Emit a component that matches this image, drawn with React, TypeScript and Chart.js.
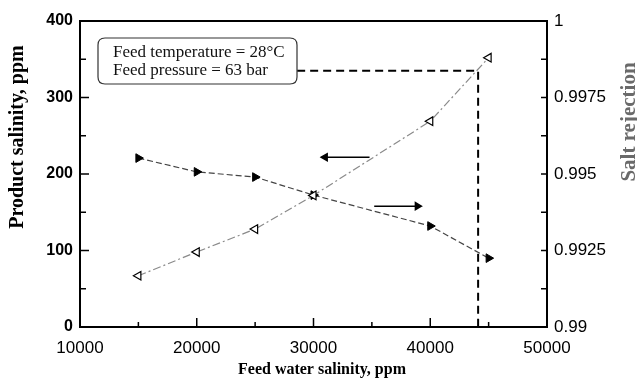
import React, { useEffect, useRef } from "react";
import { Chart, registerables } from "chart.js";

Chart.register(...registerables);

const feedSalinity = [15000, 20000, 25000, 30000, 40000, 45000];
const productSalinity = [67, 98, 128, 172, 269, 352];
const saltRejection = [0.99552, 0.99507, 0.9949, 0.99431, 0.9933, 0.99225];

const refLineX = [28600, 44100, 44100];
const refLineY = [335, 335, 0];

const leftArrowX = [34800, 31000];
const leftArrowY = [222, 222];
const rightArrowX = [35200, 38900];
const rightArrowY = [158, 158];

const boxLines = ["Feed temperature = 28°C", "Feed pressure = 63 bar"];
const xTitle = "Feed water salinity, ppm";
const yTitle = "Product salinity, ppm";
const y2Title = "Salt rejection";

const sans = "'Liberation Sans', Arial, sans-serif";
const serif = "'Liberation Serif', 'Times New Roman', serif";

const framePlugin = {
  id: "framePlugin",
  afterDraw(chart: any) {
    const ctx = chart.ctx;
    const { left, right, top, bottom } = chart.chartArea;
    const xs = chart.scales.x;
    const ys = chart.scales.y;
    const y2 = chart.scales.y2;
    ctx.save();
    ctx.strokeStyle = "#000";
    ctx.lineWidth = 2;
    ctx.strokeRect(left, top, right - left, bottom - top);
    ctx.lineWidth = 1.5;
    ctx.beginPath();
    xs.ticks.forEach((t: any) => {
      const p = xs.getPixelForValue(t.value);
      const len = Math.round(t.value) % 10000 === 0 ? 9 : 5;
      ctx.moveTo(p, bottom);
      ctx.lineTo(p, bottom - len);
    });
    ys.ticks.forEach((t: any) => {
      const p = ys.getPixelForValue(t.value);
      const len = Math.round(t.value) % 100 === 0 ? 9 : 6;
      ctx.moveTo(left, p);
      ctx.lineTo(left + len, p);
    });
    y2.ticks.forEach((t: any) => {
      const p = y2.getPixelForValue(t.value);
      ctx.moveTo(right, p);
      ctx.lineTo(right - 6, p);
    });
    ctx.stroke();

    // annotation box
    const bx = left + 18;
    const by = top + 17;
    const bw = 199;
    const bh = 46;
    const r = 7;
    ctx.lineWidth = 1.2;
    ctx.strokeStyle = "#333";
    ctx.beginPath();
    ctx.moveTo(bx + r, by);
    ctx.lineTo(bx + bw - r, by);
    ctx.quadraticCurveTo(bx + bw, by, bx + bw, by + r);
    ctx.lineTo(bx + bw, by + bh - r);
    ctx.quadraticCurveTo(bx + bw, by + bh, bx + bw - r, by + bh);
    ctx.lineTo(bx + r, by + bh);
    ctx.quadraticCurveTo(bx, by + bh, bx, by + bh - r);
    ctx.lineTo(bx, by + r);
    ctx.quadraticCurveTo(bx, by, bx + r, by);
    ctx.stroke();
    ctx.fillStyle = "#111";
    ctx.font = `17px ${serif}`;
    ctx.textAlign = "left";
    ctx.textBaseline = "middle";
    ctx.fillText(boxLines[0], bx + 15, by + 15);
    ctx.fillText(boxLines[1], bx + 15, by + 33);

    // titles
    ctx.fillStyle = "#000";
    ctx.font = `bold 16px ${serif}`;
    ctx.textAlign = "center";
    ctx.textBaseline = "middle";
    ctx.fillText(xTitle, 322, 370);

    ctx.save();
    ctx.translate(18, 137);
    ctx.rotate(-Math.PI / 2);
    ctx.font = `bold 20px ${serif}`;
    ctx.fillText(yTitle, 0, 0);
    ctx.restore();

    ctx.save();
    ctx.translate(630, 122);
    ctx.rotate(-Math.PI / 2);
    ctx.fillStyle = "#6a6a6a";
    ctx.font = `bold 21px ${serif}`;
    ctx.fillText(y2Title, 0, 0);
    ctx.restore();

    ctx.restore();
  },
};

export default function App() {
  const ref = useRef<HTMLCanvasElement>(null);
  useEffect(() => {
    document.body.style.margin = "0";
    const canvas = ref.current;
    if (!canvas) return;
    const toXY = (xs: number[], ys: number[]) => xs.map((x, i) => ({ x, y: ys[i] }));
    const chart = new Chart(canvas, {
      type: "line",
      data: {
        datasets: [
          {
            label: "Product salinity",
            data: toXY(feedSalinity, productSalinity),
            yAxisID: "y",
            borderColor: "#8a8a8a",
            borderWidth: 1.2,
            borderDash: [8, 3, 2, 3],
            pointStyle: "triangle",
            rotation: -90,
            pointRadius: 5,
            pointBackgroundColor: "#fff",
            pointBorderColor: "#000",
            pointBorderWidth: 1.2,
            tension: 0,
          },
          {
            label: "Salt rejection",
            data: toXY(feedSalinity, saltRejection),
            yAxisID: "y2",
            borderColor: "#444",
            borderWidth: 1.2,
            borderDash: [6, 3],
            pointStyle: "triangle",
            rotation: 90,
            pointRadius: 5,
            pointBackgroundColor: "#000",
            pointBorderColor: "#000",
            pointBorderWidth: 1,
            tension: 0,
          },
          {
            label: "ref",
            data: toXY(refLineX, refLineY),
            yAxisID: "y",
            borderColor: "#000",
            borderWidth: 2,
            borderDash: [8, 5],
            pointRadius: 0,
            tension: 0,
          },
          {
            label: "arrowL",
            data: toXY(leftArrowX, leftArrowY),
            yAxisID: "y",
            borderColor: "#000",
            borderWidth: 1.5,
            pointStyle: "triangle",
            rotation: -90,
            pointRadius: [0, 4],
            pointBackgroundColor: "#000",
            pointBorderColor: "#000",
          },
          {
            label: "arrowR",
            data: toXY(rightArrowX, rightArrowY),
            yAxisID: "y",
            borderColor: "#000",
            borderWidth: 1.5,
            pointStyle: "triangle",
            rotation: 90,
            pointRadius: [0, 4],
            pointBackgroundColor: "#000",
            pointBorderColor: "#000",
          },
        ],
      },
      options: {
        responsive: false,
        animation: false,
        layout: { padding: { top: 21, left: 0, right: 0, bottom: 0 } },
        plugins: { legend: { display: false }, tooltip: { enabled: false } },
        scales: {
          x: {
            type: "linear",
            min: 10000,
            max: 50000,
            grid: { display: false, drawTicks: false },
            border: { display: false },
            afterFit: (s: any) => {
              s.height = 55;
            },
            ticks: {
              stepSize: 5000,
              autoSkip: false,
              maxRotation: 0,
              padding: 11,
              color: "#000",
              font: { family: sans, size: 17 },
              callback: (v: any) => (Math.round(v) % 10000 === 0 ? String(v) : ""),
            },
          },
          y: {
            type: "linear",
            position: "left",
            min: 0,
            max: 400,
            grid: { display: false, drawTicks: false },
            border: { display: false },
            afterFit: (s: any) => {
              s.width = 80;
            },
            ticks: {
              stepSize: 50,
              autoSkip: false,
              padding: 7,
              color: "#000",
              font: { family: sans, size: 16, weight: "bold" },
              callback: (v: any) => (Math.round(v) % 100 === 0 ? String(v) : ""),
            },
          },
          y2: {
            type: "linear",
            position: "right",
            min: 0.99,
            max: 1,
            grid: { display: false, drawTicks: false },
            border: { display: false },
            afterFit: (s: any) => {
              s.width = 90;
            },
            ticks: {
              stepSize: 0.00125,
              autoSkip: false,
              padding: 7,
              color: "#000",
              font: { family: sans, size: 17 },
              callback: (v: any) => {
                const k = Math.round(v * 100000);
                return k % 250 === 0 ? String(Number(v.toFixed(4))) : "";
              },
            },
          },
        },
      },
      plugins: [framePlugin],
    } as any);
    return () => chart.destroy();
  }, []);
  return <canvas ref={ref} width={637} height={382} style={{ display: "block" }} />;
}
